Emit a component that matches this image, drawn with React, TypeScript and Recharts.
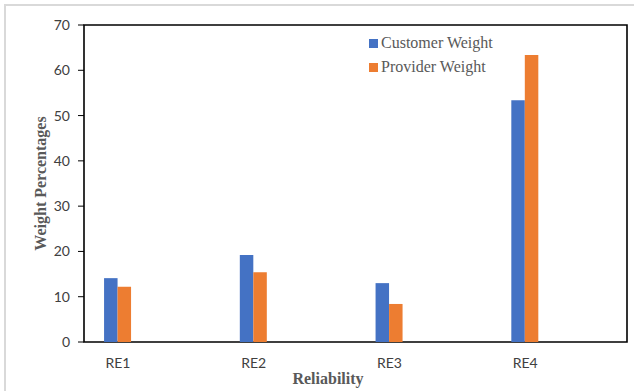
import { BarChart, Bar, XAxis, YAxis, Legend, ReferenceArea } from 'recharts';

const criteria = ['RE1', 'RE2', 'RE3', 'RE4'];
const customerWeight = [14.1, 19.2, 13.0, 53.4];
const providerWeight = [12.2, 15.4, 8.4, 63.4];
const yTicks = [0, 10, 20, 30, 40, 50, 60, 70];

const BLUE = '#4472C4';
const ORANGE = '#ED7D31';

const data = criteria.map((name, i) => ({
  pos: i,
  name,
  customer: customerWeight[i],
  provider: providerWeight[i],
}));

const tickStyle = { fontFamily: 'Lato, sans-serif', fontSize: 14, fill: '#404040' };
const titleFont = { fontFamily: '"Liberation Serif", serif', fontSize: 16, fontWeight: 700, fill: '#595959' };

const LegendBox = ({ payload }: any) => (
  <div style={{ fontFamily: '"Liberation Serif", serif', fontSize: 16, color: '#595959' }}>
    {(payload || []).map((p: any) => (
      <div key={p.value} style={{ display: 'flex', alignItems: 'center', height: 24 }}>
        <span style={{ width: 9, height: 9, background: p.color, marginRight: 3, display: 'inline-block' }} />
        {p.value}
      </div>
    ))}
  </div>
);

export default function App() {
  return (
    <div style={{ position: 'absolute', left: 0, top: 0, width: 634, height: 391, background: '#fff', overflow: 'hidden' }}>
      {/* light frame around the figure */}
      <div style={{ position: 'absolute', left: 4, top: 4, width: 650, height: 420, border: '2px solid #d9d9d9' }} />
      <BarChart
        width={634}
        height={391}
        data={data}
        margin={{ top: 25, right: 7, left: 0, bottom: 0 }}
        barGap={0}
        style={{ position: 'absolute', left: 0, top: 0 }}
      >
        <XAxis
          dataKey="pos"
          type="number"
          domain={[-0.25, 3.75]}
          ticks={[0, 1, 2, 3]}
          tickFormatter={(v: number) => criteria[v] ?? ''}
          height={49}
          axisLine={false}
          tickLine={false}
          tickSize={0}
          tickMargin={16}
          tick={tickStyle}
          label={({ viewBox }: any) => (
            <text x={viewBox.x + 244} y={viewBox.y + 36} textAnchor="middle" dominantBaseline="central" style={titleFont}>
              Reliability
            </text>
          )}
        />
        <YAxis
          domain={[0, 70]}
          ticks={yTicks}
          width={84}
          axisLine={false}
          tickLine={{ stroke: '#000', strokeWidth: 1 }}
          tickSize={6}
          tickMargin={8}
          tick={tickStyle}
          label={({ viewBox }: any) => (
            <text
              x={viewBox.x + 40}
              y={viewBox.y + viewBox.height / 2}
              textAnchor="middle"
              dominantBaseline="central"
              transform={`rotate(-90, ${viewBox.x + 40}, ${viewBox.y + viewBox.height / 2})`}
              style={titleFont}
            >
              Weight Percentages
            </text>
          )}
        />
        <Legend
          layout="vertical"
          verticalAlign="middle"
          align="center"
          content={<LegendBox />}
          wrapperStyle={{ left: 369, top: 31, width: 150 }}
        />
        <Bar dataKey="customer" name="Customer Weight" fill={BLUE} barSize={13.5} isAnimationActive={false} />
        <Bar dataKey="provider" name="Provider Weight" fill={ORANGE} barSize={13.5} isAnimationActive={false} />
        {/* plot frame */}
        <ReferenceArea x1={-0.25} x2={3.75} y1={0} y2={70} fill="none" stroke="#000" strokeWidth={1.6} ifOverflow="visible" />
      </BarChart>
    </div>
  );
}
